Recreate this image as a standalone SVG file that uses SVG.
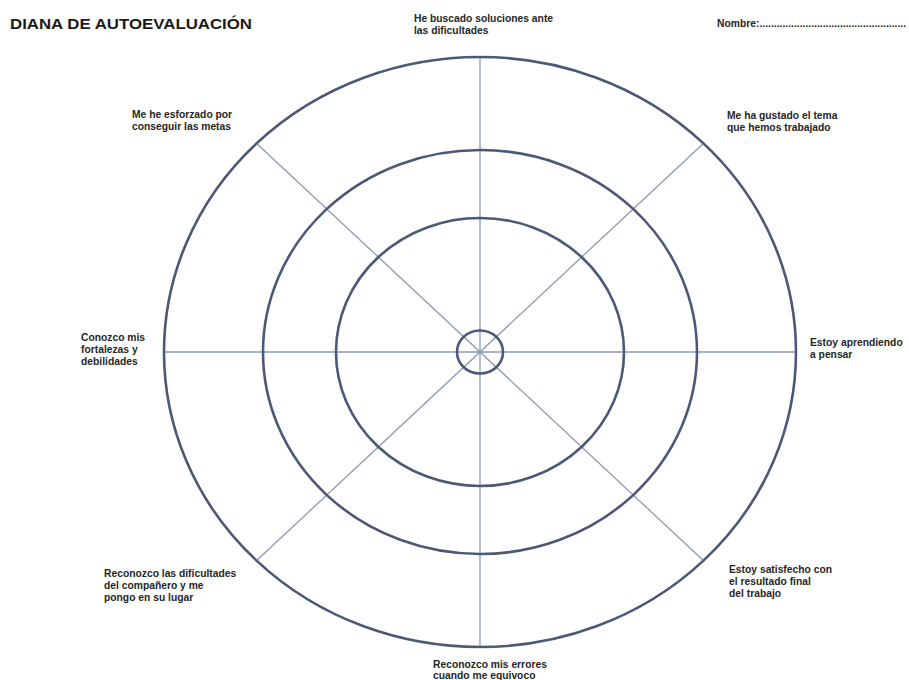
<svg xmlns="http://www.w3.org/2000/svg" width="909" height="680" viewBox="0 0 909 680">
  <style>
    .ring { fill: none; stroke: #4b5878; stroke-width: 2.6; }
    .spoke { stroke: #8e99b4; stroke-width: 1.3; }
    .title { font-family: "Liberation Sans", Arial, sans-serif; font-weight: bold; font-size: 14.5px; fill: #1a1a1a; }
    .label { font-family: "Liberation Sans", Arial, sans-serif; font-weight: bold; font-size: 10.3px; fill: #262626; }
  </style>
  <rect width="909" height="680" fill="#ffffff"/>

  <g id="header">
    <text class="title" x="10" y="29" textLength="242" lengthAdjust="spacingAndGlyphs">DIANA DE AUTOEVALUACIÓN</text>
    <text class="label" x="717" y="27" textLength="189" lengthAdjust="spacing">Nombre:...................................................</text>
  </g>

  <!-- spokes: horizontal, vertical and the two diagonals -->
  <g id="connectors">
    <line class="spoke" x1="164" y1="352" x2="796" y2="352"/>
    <line class="spoke" x1="480" y1="57" x2="480" y2="647"/>
    <line class="spoke" x1="256.6" y1="143.4" x2="703.4" y2="560.6"/>
    <line class="spoke" x1="703.4" y1="143.4" x2="256.6" y2="560.6"/>
  </g>

  <!-- concentric target rings -->
  <g id="rings">
    <ellipse id="ring-outer" class="ring" cx="480" cy="352" rx="316" ry="295"/>
    <ellipse id="ring-middle" class="ring" cx="480" cy="352" rx="217" ry="202"/>
    <ellipse id="ring-inner" class="ring" cx="480" cy="352" rx="144" ry="134"/>
    <ellipse id="ring-center" class="ring" cx="480" cy="352" rx="23" ry="21.5"/>
  </g>

  <g id="label-top">
    <text class="label" x="414" y="22">He buscado soluciones ante</text>
    <text class="label" x="414" y="34">las dificultades</text>
  </g>
  <g id="label-top-right">
    <text class="label" x="727" y="119">Me ha gustado el tema</text>
    <text class="label" x="727" y="131">que hemos trabajado</text>
  </g>
  <g id="label-right">
    <text class="label" x="810" y="346">Estoy aprendiendo</text>
    <text class="label" x="810" y="358">a pensar</text>
  </g>
  <g id="label-bottom-right">
    <text class="label" x="729" y="573">Estoy satisfecho con</text>
    <text class="label" x="729" y="585">el resultado final</text>
    <text class="label" x="729" y="597">del trabajo</text>
  </g>
  <g id="label-bottom">
    <text class="label" x="433" y="668">Reconozco mis errores</text>
    <text class="label" x="433" y="679">cuando me equivoco</text>
  </g>
  <g id="label-bottom-left">
    <text class="label" x="104" y="577">Reconozco las dificultades</text>
    <text class="label" x="104" y="589">del compañero y me</text>
    <text class="label" x="104" y="601">pongo en su lugar</text>
  </g>
  <g id="label-left">
    <text class="label" x="81" y="341">Conozco mis</text>
    <text class="label" x="81" y="353">fortalezas y</text>
    <text class="label" x="81" y="365">debilidades</text>
  </g>
  <g id="label-top-left">
    <text class="label" x="132" y="118">Me he esforzado por</text>
    <text class="label" x="132" y="130">conseguir las metas</text>
  </g>
</svg>
